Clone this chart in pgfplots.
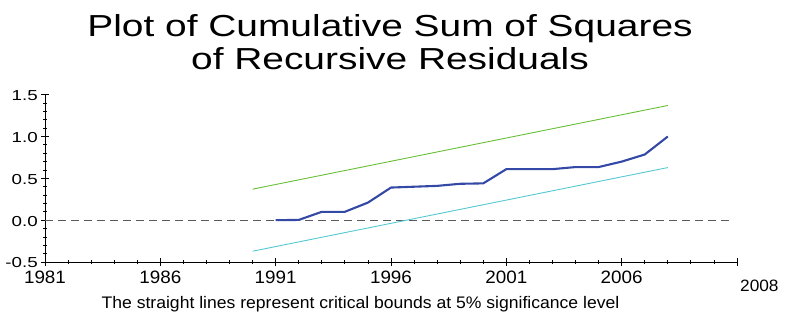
\documentclass[border=0pt]{standalone}
\usepackage{fontspec}
\setmainfont{Liberation Sans}[FakeStretch=1.05]
\newfontfamily\titlefont{Liberation Sans}[FakeStretch=1.28]
\newfontfamily\yfont{Liberation Sans}[FakeStretch=1.3]
\usepackage{pgfplots}
\pgfplotsset{compat=1.18}
\definecolor{cusum}{RGB}{52,72,165}
\definecolor{upb}{RGB}{105,190,55}
\definecolor{lob}{RGB}{85,200,210}
\begin{document}
\begin{tikzpicture}
\begin{axis}[
  scale only axis,
  width=692bp, height=167.3bp,
  xmin=1981, xmax=2011, ymin=-0.5, ymax=1.5,
  axis lines*=left,
  axis line style={black, line width=0.9bp},
  tick align=center,
  major tick length=8bp, minor tick length=4bp,
  tick style={black, line width=0.8bp},
  xtick={1981,1986,1991,1996,2001,2006,2011},
  xticklabels={1981,1986,1991,1996,2001,2006,{}},
  minor x tick num=4,
  ytick={-0.5,0,0.5,1,1.5},
  yticklabels={-0.5,0.0,0.5,1.0,1.5},
  minor y tick num=4,
  x tick label style={font=\fontsize{18}{18}\selectfont, inner sep=0pt, anchor=north, yshift=-5bp},
  y tick label style={font=\yfont\fontsize{14.5}{14.5}\selectfont, inner sep=0pt, anchor=east, xshift=-3bp, yshift=-1bp},
  clip=false,
]
\addplot[gray!70!black, line width=1.1bp, dash pattern=on 8bp off 5bp] coordinates {(1981,0) (2010.8,0)};
\addplot[upb, line width=0.9bp] coordinates {(1990,0.371) (2008,1.371)};
\addplot[lob, line width=0.9bp] coordinates {(1990,-0.371) (2008,0.629)};
\addplot[cusum, line width=2.1bp] coordinates {
(1991,0.00) (1992,0.003) (1993,0.10) (1994,0.10) (1995,0.21) (1996,0.39)
(1997,0.40) (1998,0.41) (1999,0.435) (2000,0.44) (2001,0.61) (2002,0.61)
(2003,0.61) (2004,0.635) (2005,0.635) (2006,0.70) (2007,0.785) (2008,1.00)};
\end{axis}
\node[anchor=base, inner sep=0pt, font=\titlefont\fontsize{30.5}{30.5}\selectfont] at (345bp,225bp) {Plot of Cumulative Sum of Squares};
\node[anchor=base, inner sep=0pt, font=\titlefont\fontsize{30.5}{30.5}\selectfont] at (345bp,192bp) {of Recursive Residuals};
\node[anchor=base, inner sep=0pt, font=\fontsize{16.8}{16.8}\selectfont] at (315.5bp,-46bp) {The straight lines represent critical bounds at 5\% significance level};
\node[anchor=base west, inner sep=0pt, font=\fontsize{16.5}{16.5}\selectfont] at (695bp,-29bp) {2008};
\pgfresetboundingbox
\path[use as bounding box] (-45bp,-51bp) rectangle (745bp,262bp);
\end{tikzpicture}
\end{document}
